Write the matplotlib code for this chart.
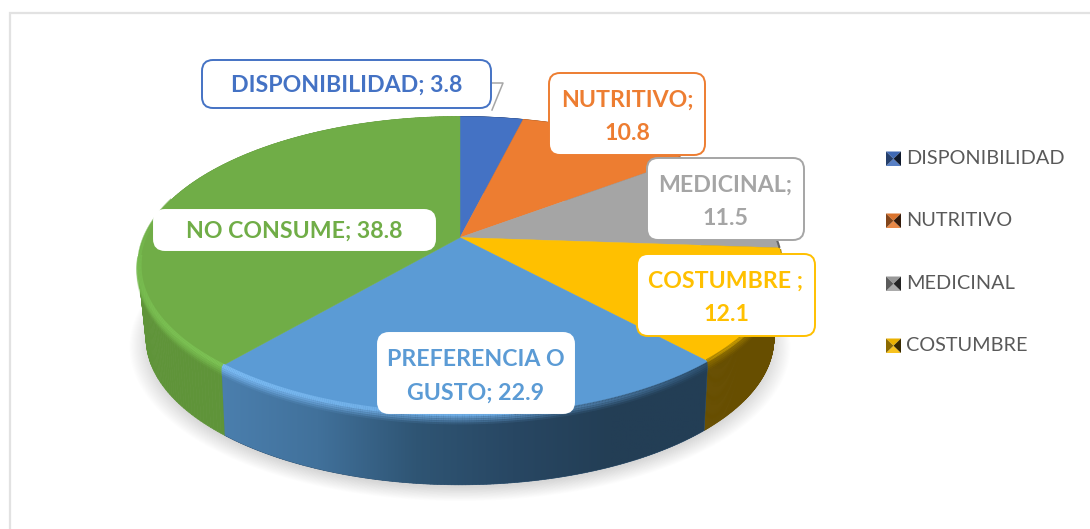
import numpy as np
import matplotlib
matplotlib.use("Agg")
import matplotlib.pyplot as plt
from matplotlib.patches import FancyBboxPatch, Polygon
from matplotlib.collections import LineCollection, PolyCollection
from matplotlib.colors import to_rgb, LinearSegmentedColormap

categories = ["DISPONIBILIDAD", "NUTRITIVO", "MEDICINAL", "COSTUMBRE", "PREFERENCIA O GUSTO", "NO CONSUME"]
values = [3.8, 10.8, 11.5, 12.1, 22.9, 38.8]
colors = ["#4472C4", "#ED7D31", "#A5A5A5", "#FFC000", "#5B9BD5", "#70AD47"]
side_colors = ["#2A4578", "#8A4A1C", "#636363", "#674E00", "#2F5272", "#5F9439"]
label_texts = ["DISPONIBILIDAD; 3.8", "NUTRITIVO;\n10.8", "MEDICINAL;\n11.5", "COSTUMBRE ;\n12.1",
               "PREFERENCIA O\nGUSTO; 22.9", "NO CONSUME; 38.8"]
label_boxes = [(202, 60, 491, 108), (549, 73, 705, 155), (647, 158, 804, 240),
               (637, 254, 815, 336), (378, 333, 574, 413), (154, 210, 435, 250)]
legend_items = categories[:4]
legend_y = [158, 220, 283, 345]

plt.rcParams["font.family"] = ["Lato", "DejaVu Sans"]
fig = plt.figure(figsize=(10.9, 5.29), dpi=100, facecolor="white")
ax = fig.add_axes([0, 0, 1, 1])
ax.set_xlim(0, 1090)
ax.set_ylim(529, 0)
ax.axis("off")

# frame
ax.plot([9.5, 9.5, 1090], [529, 12.5, 12.5], color="#E2E2E2", lw=1.6, solid_joinstyle="miter", zorder=0)

CX, CY, RX, RY, K = 460.0, 237.5, 316.0, 144.0, 0.19


def proj(theta, r=1.0, dy=0.0, k=K):
    u, v = r * np.sin(theta), r * np.cos(theta)
    d = 1 + k * v
    return CX + RX * u / d, CY + dy - RY * v / d


DEPTH = 71.0
BOT_R = 0.972
BOT_K = 0.212
edges = np.cumsum([0] + values) / np.sum(values) * 2 * np.pi

# soft shadow
full = np.linspace(0, 2 * np.pi, 361)
for r in np.linspace(1.05, 0.97, 26):
    x, y = proj(full, r * BOT_R, DEPTH + 5, BOT_K)
    ax.add_patch(Polygon(np.c_[x, y], closed=True, fc="#9A9A9A", ec="none", alpha=0.016, zorder=1))

# side walls
for i in range(len(values)):
    t = np.linspace(edges[i], edges[i + 1], 160)
    xt, yt = proj(t)
    xb, yb = proj(t, BOT_R, DEPTH, BOT_K)
    quads = [[(xt[j], yt[j]), (xt[j + 1], yt[j + 1]), (xb[j + 1], yb[j + 1]), (xb[j], yb[j])]
             for j in range(len(t) - 1)]
    ax.add_collection(PolyCollection(quads, facecolors=side_colors[i], edgecolors=side_colors[i],
                                     linewidths=0.5, zorder=2 + 0.1 * i))
    if categories[i].startswith("PREFERENCIA"):
        poly = np.r_[np.c_[xt, yt], np.c_[xb, yb][::-1]]
        p = Polygon(poly, closed=True, fc="none", ec="none", zorder=2.6)
        ax.add_patch(p)
        cmap = LinearSegmentedColormap.from_list("side", ["#4B7FAE", "#41719B", "#2F5574", "#284763", "#233E55", "#233E55"])
        im = ax.imshow(np.linspace(0, 1, 256)[None, :], extent=[xt.min() - 2, xt.max() + 2, 500, 340],
                       cmap=cmap, aspect="auto", zorder=2.6)
        im.set_clip_path(p)
ax.set_xlim(0, 1090)
ax.set_ylim(529, 0)


# bevel along rim
def rim(t0, t1, c0, c1, r=0.992, lw=4.0, dy=0.0, alpha=1.0, z=4):
    t = np.linspace(t0, t1, 140)
    x, y = proj(t, r, dy)
    pts = np.c_[x, y]
    segs = np.stack([pts[:-1], pts[1:]], axis=1)
    c0, c1 = np.array(to_rgb(c0)), np.array(to_rgb(c1))
    f = np.linspace(0, 1, len(segs))[:, None]
    ax.add_collection(LineCollection(segs, colors=c0 * (1 - f) + c1 * f, linewidths=lw, alpha=alpha,
                                     capstyle="butt", zorder=z))


# soft transition below the rim on the front wall
for d, a in zip([1.5, 3.5, 5.5, 7.5], [0.8, 0.55, 0.32, 0.15]):
    rim(edges[4], edges[4] + 0.6, "#2E5272", "#5E94C6", r=1.0, lw=2.4, dy=d, alpha=a)
    rim(edges[4] + 0.6, edges[5], "#5E94C6", "#76B4EE", r=1.0, lw=2.4, dy=d, alpha=a)
    rim(edges[3], edges[4], "#A07C00", "#8A6B00", r=1.0, lw=2.4, dy=d, alpha=a)
    rim(edges[5], edges[5] + 0.75, "#78BC50", "#78BC50", r=1.0, lw=2.4, dy=d, alpha=a)

# top surface
for i in range(len(values)):
    t = np.linspace(edges[i], edges[i + 1], 160)
    x, y = proj(t)
    poly = np.r_[[[CX, CY]], np.c_[x, y]]
    ax.add_patch(Polygon(poly, closed=True, fc=colors[i], ec=colors[i], lw=0.3, zorder=5))

rim(edges[5] + 0.75, edges[5] + 1.15, "#78BC50", "#70AD47", r=0.998, lw=2.5, z=6)
rim(edges[5], edges[5] + 0.75, "#7CC254", "#78BC50", r=0.996, lw=3, z=6)
rim(edges[4] + 0.6, edges[5], "#6AA8E0", "#7ABAF2", r=0.996, lw=3, z=6)
rim(edges[3] + 0.1, edges[4], "#D8A400", "#A88400", r=0.997, lw=2.5, z=6)
rim(edges[2] + 0.14, edges[3], "#8A8A8A", "#555555", r=1.0, lw=1.5, z=6)

# leader line
ax.plot([491, 503, 492], [83, 83, 110], color="#A6A6A6", lw=1.1, zorder=7)

# data labels
label_colors = colors
for i, (txt, box) in enumerate(zip(label_texts, label_boxes)):
    x0, y0, x1, y1 = box
    is_plain = categories[i] in ("NO CONSUME", "PREFERENCIA O GUSTO")
    ax.add_patch(FancyBboxPatch((x0, y0), x1 - x0, y1 - y0, boxstyle="round,pad=0,rounding_size=11",
                                fc="white", ec=("#FFFFFF" if is_plain else label_colors[i]),
                                lw=1.4, zorder=8, mutation_aspect=1))
    off = 3.0 if "\n" in txt else 1.5
    ax.text((x0 + x1) / 2, (y0 + y1) / 2 + off, txt, color=label_colors[i], fontsize=16.7, fontweight="bold",
            ha="center", va="center", linespacing=1.76, zorder=9)

# legend
legend_colors = colors[:4]
for lab, yc, col in zip(legend_items, legend_y, legend_colors):
    x0, x1, y0, y1 = 886, 901, yc - 6.5, yc + 8
    xm, ym = (x0 + x1) / 2, (y0 + y1) / 2
    base = np.array(to_rgb(col))
    ax.add_patch(Polygon([(x0, y0), (x1, y0), (xm, ym)], fc=base * 0.92, ec="none", zorder=4))
    ax.add_patch(Polygon([(x0, y1), (x1, y1), (xm, ym)], fc=base * 0.85 + 0.12, ec="none", zorder=4))
    ax.add_patch(Polygon([(x0, y0), (x0, y1), (xm, ym)], fc=base * 0.55, ec="none", zorder=4))
    ax.add_patch(Polygon([(x1, y0), (x1, y1), (xm, ym)], fc=base * 0.22, ec="none", zorder=4))
    ax.text(906, yc + 0.5, lab, color="#595959", fontsize=14.35, ha="left", va="center", zorder=9)

fig.savefig("out.png", dpi=100)
